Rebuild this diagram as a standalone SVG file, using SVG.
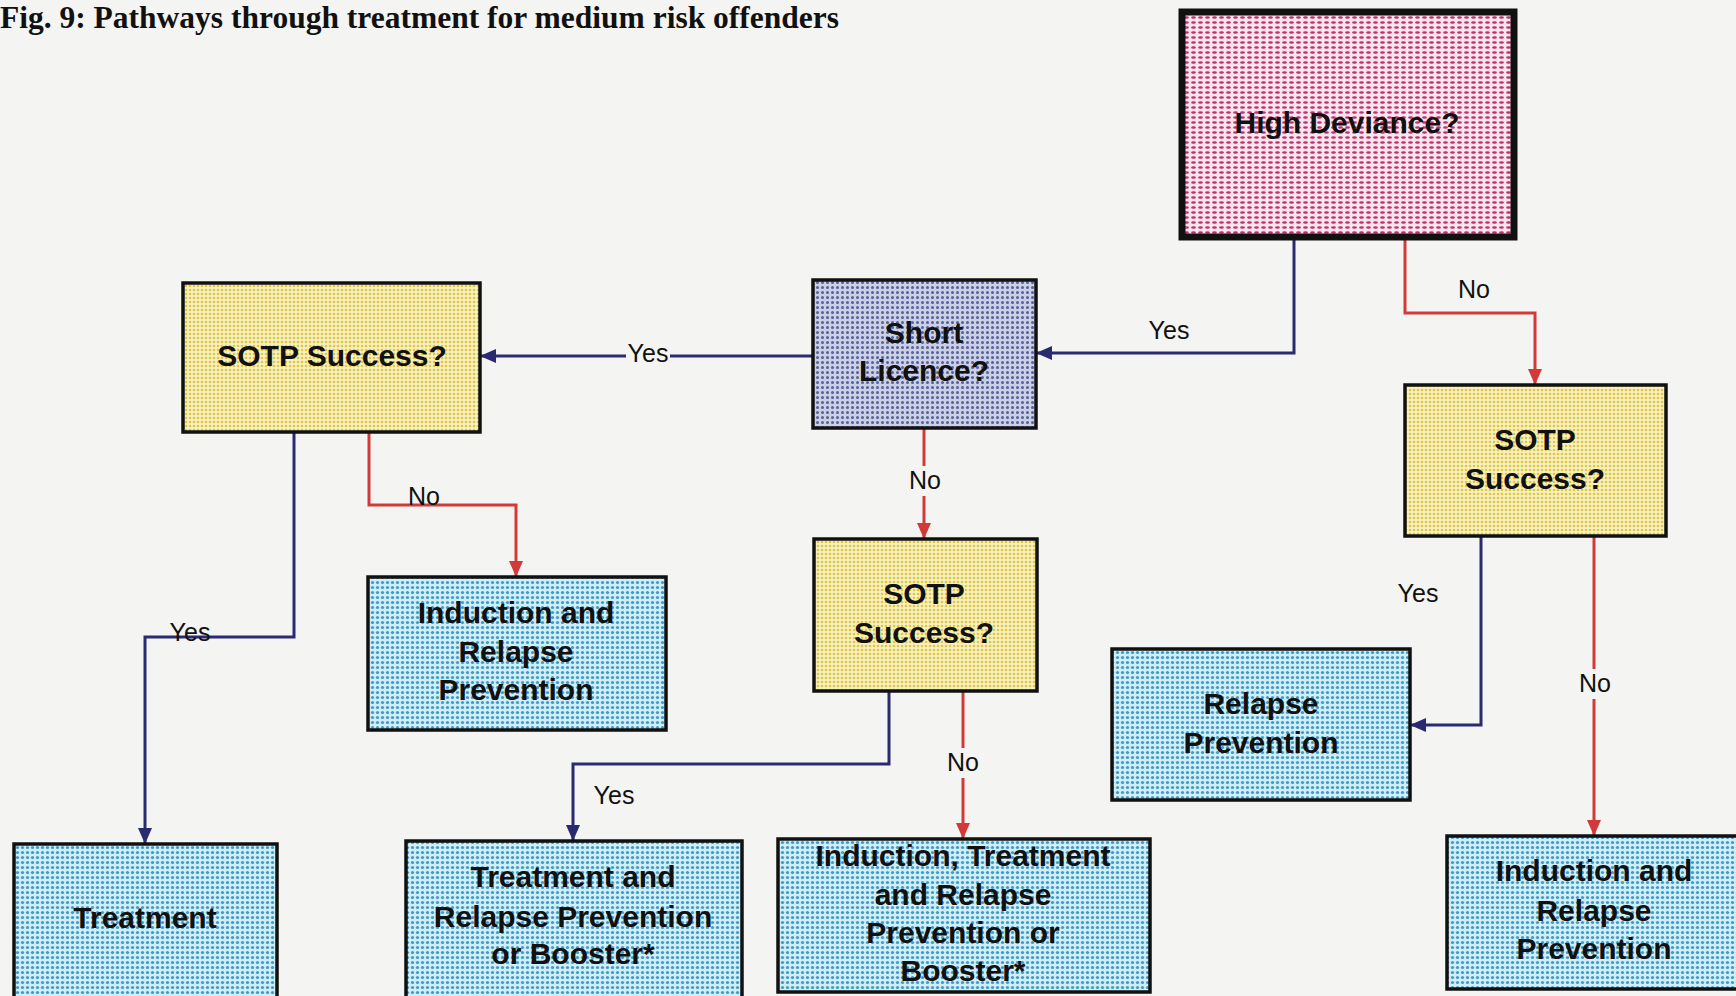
<svg xmlns="http://www.w3.org/2000/svg" width="1736" height="996" viewBox="0 0 1736 996">
<defs>
<style>
.node-thin{stroke:#111;stroke-width:3.5}
.nt{font-family:"Liberation Sans",Arial,sans-serif;font-weight:bold;font-size:30px;fill:#111;text-anchor:middle}
.lbl{font-family:"Liberation Sans",Arial,sans-serif;font-size:25px;fill:#111;text-anchor:middle}
.yes{fill:none;stroke:#2a2a70;stroke-width:3}
.no{fill:none;stroke:#d23a3a;stroke-width:3}
.gap{fill:#f4f4f2}
</style>
<pattern id="pinkPat" patternUnits="userSpaceOnUse" width="7" height="5">
<rect width="7" height="5" fill="#f6e6ee"/>
<ellipse cx="3.5" cy="2.5" rx="2.4" ry="1.3" fill="#c42e6c"/>
</pattern>
<pattern id="yellowPat" patternUnits="userSpaceOnUse" width="4" height="4">
<rect width="4" height="4" fill="#f6f0c6"/>
<circle cx="2" cy="2" r="1.3" fill="#e2c838"/>
</pattern>
<pattern id="slatePat" patternUnits="userSpaceOnUse" width="5" height="5">
<rect width="5" height="5" fill="#ccd0e4"/>
<circle cx="2.5" cy="2.5" r="1.5" fill="#55609c"/>
</pattern>
<pattern id="bluePat" patternUnits="userSpaceOnUse" width="5" height="5">
<rect width="5" height="5" fill="#d2edf5"/>
<circle cx="2.5" cy="2.5" r="1.6" fill="#3b9ccb"/>
</pattern>
<marker id="arrYes" markerUnits="userSpaceOnUse" markerWidth="16" markerHeight="14" refX="16" refY="7" orient="auto">
<path d="M0,0 L16,7 L0,14 z" fill="#2a2a70"/>
</marker>
<marker id="arrNo" markerUnits="userSpaceOnUse" markerWidth="16" markerHeight="14" refX="16" refY="7" orient="auto">
<path d="M0,0 L16,7 L0,14 z" fill="#d23a3a"/>
</marker>
</defs>
<rect width="1736" height="996" fill="#f4f4f2"/>
<text x="0" y="28" font-family="'Liberation Serif','Times New Roman',serif" font-weight="bold" font-size="31.5" fill="#111">Fig. 9:  Pathways through treatment for medium risk offenders</text>

<g id="connectors">
<polyline class="yes" points="1294,240 1294,353 1036,353" marker-end="url(#arrYes)"/>
<polyline class="no" points="1405,240 1405,313 1535,313 1535,385" marker-end="url(#arrNo)"/>
<polyline class="yes" points="813,356 480,356" marker-end="url(#arrYes)"/>
<polyline class="yes" points="294,432 294,637 145,637 145,844" marker-end="url(#arrYes)"/>
<polyline class="no" points="369,432 369,505 516,505 516,577" marker-end="url(#arrNo)"/>
<polyline class="no" points="924,428 924,539" marker-end="url(#arrNo)"/>
<polyline class="yes" points="889,691 889,764 573,764 573,841" marker-end="url(#arrYes)"/>
<polyline class="no" points="963,691 963,839" marker-end="url(#arrNo)"/>
<polyline class="yes" points="1481,536 1481,725 1410,725" marker-end="url(#arrYes)"/>
<polyline class="no" points="1594,536 1594,836" marker-end="url(#arrNo)"/>
<rect class="gap" x="626" y="342" width="44" height="26"/>
<rect class="gap" x="906" y="466" width="38" height="30"/>
<rect class="gap" x="945" y="748" width="38" height="30"/>
<rect class="gap" x="1576" y="669" width="38" height="30"/>
<text class="lbl" x="1169" y="339">Yes</text>
<text class="lbl" x="1474" y="298">No</text>
<text class="lbl" x="648" y="362">Yes</text>
<text class="lbl" x="190" y="641">Yes</text>
<text class="lbl" x="424" y="505">No</text>
<text class="lbl" x="925" y="489">No</text>
<text class="lbl" x="614" y="804">Yes</text>
<text class="lbl" x="963" y="771">No</text>
<text class="lbl" x="1418" y="602">Yes</text>
<text class="lbl" x="1595" y="692">No</text>
</g>

<g id="high-deviance">
<rect x="1182" y="12" width="332" height="225" fill="url(#pinkPat)" stroke="#111" stroke-width="7"/>
<text class="nt" x="1347" y="133">High Deviance?</text>
</g>
<g id="short-licence">
<rect class="node-thin" x="813" y="280" width="223" height="148" fill="url(#slatePat)"/>
<text class="nt" x="924" y="343">Short</text>
<text class="nt" x="924" y="381">Licence?</text>
</g>
<g id="sotp-left">
<rect class="node-thin" x="183" y="283" width="297" height="149" fill="url(#yellowPat)"/>
<text class="nt" x="332" y="366">SOTP Success?</text>
</g>
<g id="sotp-right">
<rect class="node-thin" x="1405" y="385" width="261" height="151" fill="url(#yellowPat)"/>
<text class="nt" x="1535" y="450">SOTP</text>
<text class="nt" x="1535" y="489">Success?</text>
</g>
<g id="sotp-middle">
<rect class="node-thin" x="814" y="539" width="223" height="152" fill="url(#yellowPat)"/>
<text class="nt" x="924" y="604">SOTP</text>
<text class="nt" x="924" y="643">Success?</text>
</g>
<g id="induction-rp-left">
<rect class="node-thin" x="368" y="577" width="298" height="153" fill="url(#bluePat)"/>
<text class="nt" x="516" y="623">Induction and</text>
<text class="nt" x="516" y="662">Relapse</text>
<text class="nt" x="516" y="700">Prevention</text>
</g>
<g id="relapse-prevention">
<rect class="node-thin" x="1112" y="649" width="298" height="151" fill="url(#bluePat)"/>
<text class="nt" x="1261" y="714">Relapse</text>
<text class="nt" x="1261" y="753">Prevention</text>
</g>
<g id="treatment">
<rect class="node-thin" x="14" y="844" width="263" height="160" fill="url(#bluePat)"/>
<text class="nt" x="145" y="928">Treatment</text>
</g>
<g id="treatment-rp-booster">
<rect class="node-thin" x="406" y="841" width="336" height="160" fill="url(#bluePat)"/>
<text class="nt" x="573" y="887">Treatment and</text>
<text class="nt" x="573" y="927">Relapse Prevention</text>
<text class="nt" x="573" y="964">or Booster*</text>
</g>
<g id="induction-treatment-rp-booster">
<rect class="node-thin" x="778" y="839" width="372" height="153" fill="url(#bluePat)"/>
<text class="nt" x="963" y="866">Induction, Treatment</text>
<text class="nt" x="963" y="905">and Relapse</text>
<text class="nt" x="963" y="943">Prevention or</text>
<text class="nt" x="963" y="981">Booster*</text>
</g>
<g id="induction-rp-right">
<rect class="node-thin" x="1447" y="836" width="295" height="153" fill="url(#bluePat)"/>
<text class="nt" x="1594" y="881">Induction and</text>
<text class="nt" x="1594" y="921">Relapse</text>
<text class="nt" x="1594" y="959">Prevention</text>
</g>
</svg>
